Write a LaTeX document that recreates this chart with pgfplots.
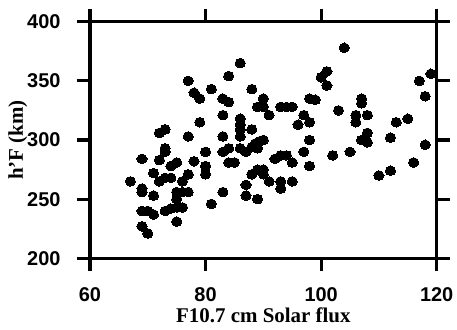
\documentclass[border=0pt]{standalone}
\usepackage{pgfplots}
\pgfplotsset{compat=1.18}
\usepackage{fontspec}
\newfontfamily\helv{Liberation Sans}
\newfontfamily\timesf{Liberation Serif}
\begin{document}
\begin{tikzpicture}
\begin{axis}[
  scale only axis, width=346.7bp, height=236.6bp,
  xmin=60, xmax=120, ymin=200, ymax=400,
  xtick={60,80,100,120}, ytick={200,250,300,350,400},
  tick align=outside, xtick pos=both, ytick pos=both,
  xticklabel pos=lower, yticklabel pos=left,
  major tick length=13bp,
  axis line style={line width=3.4bp},
  every tick/.style={line width=3.2bp, black},
  /pgf/number format/assume math mode=true,
  ticklabel style={font=\fontsize{20}{24}\selectfont\helv\bfseries},
  xticklabel style={yshift=-13bp},
  yticklabel style={xshift=-13bp},
  label style={font=\fontsize{21}{25}\selectfont\timesf\bfseries},
  xlabel={F10.7 cm Solar flux}, ylabel={h’F (km)},
  xlabel style={yshift=1bp},
  ylabel style={yshift=-7bp},
  clip=false,
]
\addplot[only marks, mark=*, mark size=4.8bp, mark options={draw=black, fill=black, line width=0pt, xscale=1.06}] coordinates {
(67,265)(69,284)(69,259)(69,256)(69,240)(69,227)(70,221)(70,240)
(71,272)(71,253)(71,237)(72,306)(73,309)(72,283)(72,265)(73,293)
(73,290)(73,268)(73,240)(74,268)(74,278)(74,242)(75,281)(75,256)
(75,250)(75,243)(75,231)(76,265)(76,256)(76,243)(77,350)(77,303)
(77,271)(77,256)(78,340)(78,282)(79,335)(79,315)(80,290)(80,278)
(80,271)(81,343)(81,246)(83,335)(83,321)(83,303)(83,290)(83,256)
(84,354)(84,332)(84,293)(84,281)(85,281)(86,365)(86,318)(86,313)
(86,309)(86,303)(86,293)(87,262)(87,253)(87,290)(88,343)(88,309)
(88,294)(88.6,297)(89.4,299)(88,271)(89,328)(89,293)(89,275)(89,250)
(90,335)(90,328)(90,300)(90,275)(90,271)(91,321)(91,265)(92,284)
(93,328)(93,287)(93,265)(93,259)(94,328)(94,287)(95,328)(95,281)
(95,265)(96,313)(97,321)(97,290)(98,335)(98,315)(98,300)(98,278)
(99,334)(100,353)(101,358)(101,346)(102,287)(103,325)(104,378)(105,290)
(106,321)(106,315)(107,335)(107,331)(107,300)(108,321)(108,306)(108,298)
(110,270)(112,302)(112,274)(113,315)(115,318)(116,281)(117,350)(118,337)
(118,296)(119,356)
};
\end{axis}
\pgfresetboundingbox
\path (current axis.south west) ++(-90bp,-70.7bp) coordinate (bbA);
\path (current axis.north east) ++(20.3bp,21.7bp) coordinate (bbB);
\useasboundingbox (bbA) rectangle (bbB);
\end{tikzpicture}
\end{document}
